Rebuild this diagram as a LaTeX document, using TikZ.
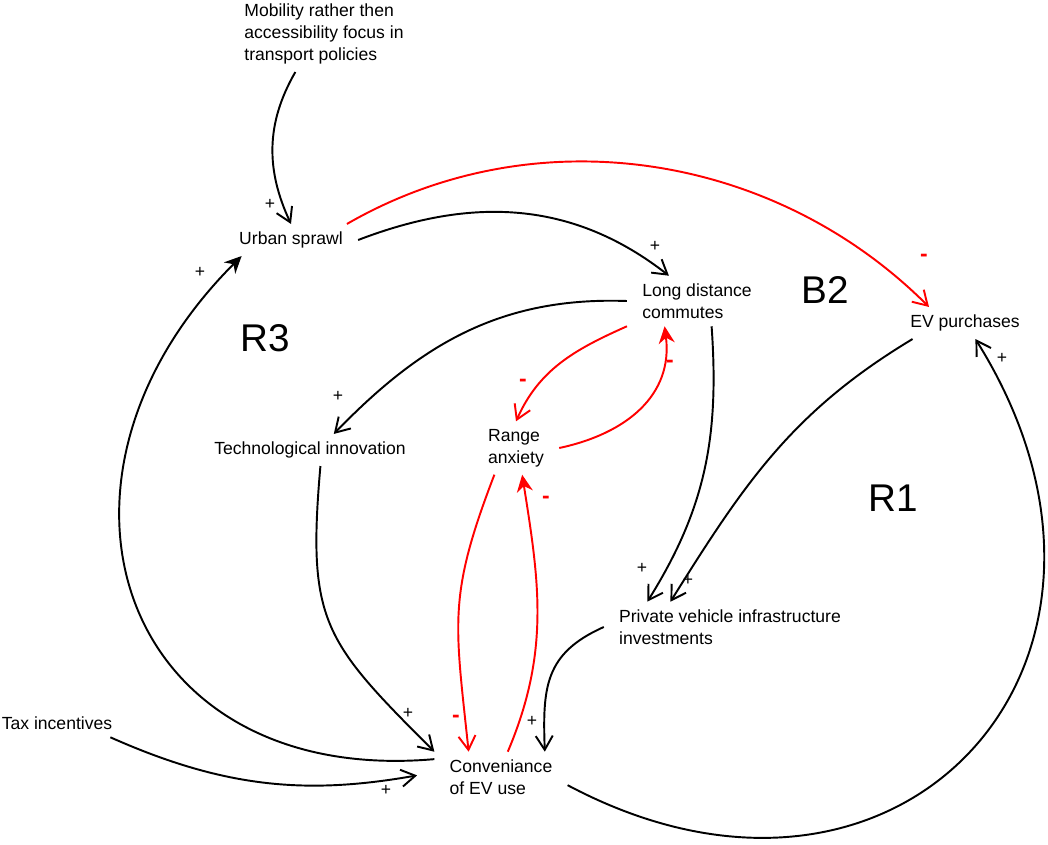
\documentclass[tikz,border=0pt]{standalone}
\usepackage{fontspec}
\setmainfont{Liberation Sans}
\usepackage{tikz}
\usetikzlibrary{arrows.meta}
\tikzset{
    cldvar/.style={inner xsep=0.3cm, inner ysep=0.15cm, align=left, font=\fontsize{10}{12.5}\selectfont},
    cldloop/.style={font=\fontsize{22}{26}\selectfont},
    cldarrow/.style={-{Straight Barb[length=2.8mm,width=3.4mm]}, line width=1.1pt},
    cldfill/.style={-{Stealth[length=3.4mm,width=3.2mm]}, line width=1.1pt},
    cldneg/.style={cldarrow, red},
    cldnegfill/.style={cldfill, red},
    cldsign/.style={font=\fontsize{10}{11}\selectfont, inner sep=0pt},
    cldsignneg/.style={font=\fontsize{13}{14}\bfseries, text=red, inner sep=0pt},
}

\begin{document}
\begin{tikzpicture}
        \useasboundingbox (0,0) rectangle (20.96,16.88);
        % Variables
        \node[cldvar] (mob) at (6.48,16.2)  {Mobility rather then\\ accessibility focus in\\ transport policies};
        \node[cldvar] (us)  at (5.82,12.08) {Urban sprawl};
        \node[cldvar] (ld)  at (13.94,10.86) {Long distance\\ commutes};
        \node[cldvar] (ev)  at (19.3,10.42) {EV purchases};
        \node[cldvar] (ti)  at (6.2,7.88)   {Technological innovation};
        \node[cldvar] (ra)  at (10.32,7.92) {Range\\ anxiety};
        \node[cldvar] (pv)  at (14.6,4.34)  {Private vehicle infrastructure\\ investments};
        \node[cldvar] (tax) at (1.14,2.42)  {Tax incentives};
        \node[cldvar] (cv)  at (10.02,1.34) {Conveniance\\ of EV use};
        % Loop names
        \node[cldloop] (r3) at (5.3,10.12)  {R3};
        \node[cldloop] (b2) at (16.5,11.08) {B2};
        \node[cldloop] (r1) at (17.86,6.92) {R1};
        % Positive links
        \draw[cldarrow] (mob.-127) to[out=240,in=115] (us.north);
        \draw[cldarrow] (us.east) to[out=21,in=142] (ld.138);
        \draw[cldarrow] (ld.west) to[out=178,in=46] (ti.34);
        \draw[cldarrow] (ld.-60) to[out=-86,in=58] (pv.163);
        \draw[cldarrow] (ev.-163) to[out=211,in=58] (pv.157);
        \draw[cldarrow] (ti.-57) to[out=-95,in=135,looseness=1.3] (cv.north west);
        \draw[cldarrow] (pv.west) to[out=204,in=92,looseness=1.2] (cv.30);
        \draw[cldarrow, shorten >=0.35cm] (tax.-15) to[out=-24,in=190] (cv.176);
        \draw[cldfill] (cv.165) to[out=185,in=225,looseness=1.5] (us.198);
        \draw[cldarrow] (cv.-7) to[out=-28,in=-58,looseness=1.6] (ev.-57);
        % Negative links
        \draw[cldneg] (us.16) to[out=30,in=135,looseness=0.95] (ev.156);
        \draw[cldneg] (ld.south west) to[out=204,in=66] (ra.north);
        \draw[cldnegfill] (ra.east) to[out=12,in=-83,looseness=1.1] (ld.-142);
        \draw[cldneg] (ra.-129) to[out=249,in=96,looseness=1.2] (cv.142);
        \draw[cldnegfill] (cv.75) to[out=67,in=-81] (ra.-77);
        % Polarities
        \node[cldsign] (s1)  at (5.4,12.8)   {+};
        \node[cldsign] (s2)  at (13.1,11.96) {+};
        \node[cldsign] (s4)  at (6.76,8.96)  {+};
        \node[cldsign] (s7)  at (12.84,5.52) {+};
        \node[cldsign] (s8)  at (13.76,5.28) {+};
        \node[cldsign] (s9)  at (8.16,2.62)  {+};
        \node[cldsign] (s12) at (10.64,2.46) {+};
        \node[cldsign] (s13) at (7.72,1.08)  {+};
        \node[cldsign] (s14) at (4.0,11.44)  {+};
        \node[cldsign] (s15) at (20.04,9.72) {+};
        \node[cldsignneg] (s3)  at (18.48,11.72) {-};
        \node[cldsignneg] (s5)  at (10.46,9.22)  {-};
        \node[cldsignneg] (s6)  at (13.4,9.6)    {-};
        \node[cldsignneg] (s10) at (9.12,2.5)    {-};
        \node[cldsignneg] (s11) at (10.92,6.88)  {-};
    \end{tikzpicture}
\end{document}
